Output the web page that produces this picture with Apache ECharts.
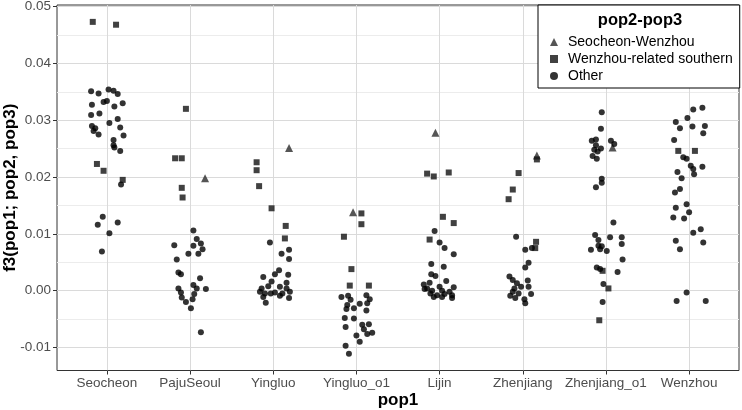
<!DOCTYPE html>
<html>
<head>
<meta charset="utf-8">
<title>f3 jitter</title>
<script src="https://cdn.jsdelivr.net/npm/echarts@6/dist/echarts.min.js"></script>
<style>
  html, body { margin: 0; padding: 0; background: #fff; }
  #chart { width: 742px; height: 410px; }
</style>
</head>
<body>
<div id="chart"></div>
<script>
// x categories (pop1)
const categories = ['Seocheon', 'PajuSeoul', 'Yingluo', 'Yingluo_o1', 'Lijin', 'Zhenjiang', 'Zhenjiang_o1', 'Wenzhou']
const yTicks = [-0.01, 0, 0.01, 0.02, 0.03, 0.04, 0.05]
const yMinorTicks = [-0.005, 0.005, 0.015, 0.025, 0.035, 0.045]

// each point: [category index, jitter, f3]
const seocheonWenzhou = [
  [1, 0.18, 0.0198], [2, 0.19, 0.0251], [3, -0.04, 0.0138], [4, -0.05, 0.0278],
  [5, 0.17, 0.0238], [6, 0.08, 0.0252]
]

const wenzhouSouthern = [
  [0, -0.17, 0.0473], [0, 0.11, 0.0468], [0, -0.12, 0.0223], [0, -0.04, 0.0211], [0, 0.19, 0.0195],
  [1, -0.05, 0.0320], [1, -0.18, 0.0233], [1, -0.10, 0.0233], [1, -0.10, 0.0181], [1, -0.09, 0.0164],
  [2, -0.20, 0.0226], [2, -0.20, 0.0212], [2, -0.17, 0.0184], [2, -0.02, 0.0145], [2, 0.15, 0.0114], [2, 0.14, 0.0092],
  [3, 0.06, 0.0136], [3, 0.06, 0.0117], [3, -0.15, 0.0095], [3, -0.06, 0.0038], [3, -0.08, 0.0009], [3, 0.15, 0.0009],
  [4, -0.15, 0.0206], [4, -0.07, 0.0201], [4, 0.11, 0.0208], [4, 0.04, 0.0130], [4, 0.17, 0.0119], [4, -0.12, 0.0090],
  [5, 0.17, 0.0231], [5, -0.05, 0.0207], [5, -0.12, 0.0178], [5, -0.17, 0.0161], [5, 0.16, 0.0086], [5, 0.15, 0.0075],
  [6, -0.04, 0.0035], [6, 0.03, 0.0004], [6, -0.08, -0.0052],
  [7, -0.13, 0.0246], [7, 0.07, 0.0246]
]

const other = [
  // Seocheon
  [0, -0.19, 0.0351], [0, -0.10, 0.0347], [0, 0.02, 0.0354], [0, 0.08, 0.0352], [0, 0.13, 0.0346],
  [0, -0.18, 0.0327], [0, -0.04, 0.0332], [0, 0.00, 0.0334], [0, 0.09, 0.0324], [0, 0.19, 0.0330],
  [0, -0.19, 0.0309], [0, -0.09, 0.0312], [0, 0.03, 0.0295], [0, 0.13, 0.0302], [0, -0.18, 0.0290],
  [0, -0.14, 0.0286], [0, -0.16, 0.0281], [0, -0.10, 0.0275], [0, 0.16, 0.0287], [0, 0.20, 0.0273],
  [0, 0.08, 0.0265], [0, 0.08, 0.0256], [0, 0.09, 0.0252], [0, 0.16, 0.0246], [0, 0.17, 0.0187],
  [0, -0.05, 0.0130], [0, -0.11, 0.0116], [0, 0.13, 0.0120], [0, 0.03, 0.0101], [0, -0.06, 0.0069],
  // PajuSeoul
  [1, 0.04, 0.0106], [1, 0.08, 0.0091], [1, -0.19, 0.0080], [1, 0.04, 0.0079], [1, 0.13, 0.0083],
  [1, 0.15, 0.0073], [1, -0.02, 0.0065], [1, 0.10, 0.0065], [1, -0.16, 0.0055], [1, -0.14, 0.0032],
  [1, -0.11, 0.0029], [1, 0.12, 0.0022], [1, -0.14, 0.0004], [1, 0.04, 0.0010], [1, 0.08, 0.0004],
  [1, 0.19, 0.0003], [1, -0.11, -0.0003], [1, -0.10, -0.0012], [1, 0.05, -0.0006], [1, 0.03, -0.0015],
  [1, -0.05, -0.0020], [1, 0.01, -0.0031], [1, 0.13, -0.0073],
  // Yingluo
  [2, -0.04, 0.0085], [2, 0.19, 0.0072], [2, 0.10, 0.0065], [2, 0.19, 0.0056], [2, 0.07, 0.0036],
  [2, 0.02, 0.0029], [2, -0.12, 0.0024], [2, 0.18, 0.0028], [2, -0.02, 0.0016], [2, 0.16, 0.0014],
  [2, -0.14, 0.0004], [2, -0.06, 0.0008], [2, 0.08, 0.0007], [2, 0.16, 0.0004], [2, -0.16, -0.0002],
  [2, -0.10, -0.0005], [2, 0.02, -0.0003], [2, 0.11, -0.0005], [2, 0.20, -0.0002], [2, -0.12, -0.0011],
  [2, 0.08, -0.0009], [2, 0.19, -0.0013], [2, -0.03, -0.0005], [2, -0.09, -0.0021],
  // Yingluo_o1
  [3, -0.18, -0.0011], [3, -0.10, -0.0009], [3, -0.07, -0.0016], [3, 0.12, -0.0008], [3, 0.16, -0.0015],
  [3, 0.13, -0.0022], [3, -0.11, -0.0025], [3, 0.04, -0.0023], [3, -0.03, -0.0031], [3, -0.12, -0.0032],
  [3, 0.12, -0.0035], [3, -0.14, -0.0048], [3, -0.03, -0.0049], [3, 0.07, -0.0060], [3, 0.15, -0.0059],
  [3, -0.13, -0.0064], [3, 0.09, -0.0068], [3, 0.19, -0.0074], [3, 0.13, -0.0076], [3, 0.00, -0.0079],
  [3, 0.04, -0.0090], [3, -0.13, -0.0097], [3, -0.09, -0.0111],
  // Lijin
  [4, -0.06, 0.0105], [4, 0.00, 0.0085], [4, 0.06, 0.0075], [4, 0.17, 0.0064], [4, -0.10, 0.0047],
  [4, 0.05, 0.0042], [4, -0.10, 0.0029], [4, -0.05, 0.0026], [4, 0.08, 0.0017], [4, -0.19, 0.0011],
  [4, -0.12, 0.0014], [4, -0.15, 0.0004], [4, 0.00, 0.0007], [4, -0.09, 0.0000], [4, -0.18, 0.0003],
  [4, 0.03, 0.0000], [4, 0.17, 0.0006], [4, 0.12, -0.0002], [4, -0.11, -0.0005], [4, -0.03, -0.0008],
  [4, 0.06, -0.0006], [4, 0.15, -0.0008], [4, -0.07, -0.0011], [4, 0.03, -0.0011], [4, 0.15, -0.0013],
  // Zhenjiang
  [5, -0.08, 0.0095], [5, 0.03, 0.0072], [5, 0.11, 0.0075], [5, 0.07, 0.0049], [5, 0.03, 0.0041],
  [5, -0.16, 0.0025], [5, -0.12, 0.0019], [5, 0.06, 0.0018], [5, -0.07, 0.0013], [5, 0.07, 0.0007],
  [5, -0.10, 0.0004], [5, -0.02, 0.0007], [5, -0.12, -0.0002], [5, -0.05, -0.0005], [5, 0.10, -0.0006],
  [5, -0.15, -0.0009], [5, -0.09, -0.0013], [5, 0.02, -0.0015], [5, 0.03, -0.0022],
  // Zhenjiang_o1
  [6, -0.05, 0.0314], [6, -0.06, 0.0285], [6, -0.17, 0.0264], [6, -0.12, 0.0266], [6, 0.06, 0.0264],
  [6, 0.10, 0.0258], [6, -0.12, 0.0256], [6, -0.14, 0.0248], [6, -0.06, 0.0250], [6, -0.10, 0.0245],
  [6, -0.16, 0.0237], [6, -0.11, 0.0232], [6, -0.05, 0.0197], [6, -0.05, 0.0190], [6, -0.12, 0.0182],
  [6, 0.09, 0.0120], [6, -0.13, 0.0098], [6, 0.05, 0.0094], [6, 0.19, 0.0094], [6, -0.09, 0.0089],
  [6, 0.19, 0.0082], [6, -0.09, 0.0079], [6, -0.05, 0.0078], [6, -0.18, 0.0072], [6, -0.07, 0.0073],
  [6, 0.01, 0.0070], [6, 0.20, 0.0055], [6, -0.11, 0.0041], [6, -0.07, 0.0038], [6, 0.14, 0.0033],
  [6, -0.03, 0.0012], [6, -0.04, -0.0020],
  // Wenzhou
  [7, 0.05, 0.0319], [7, 0.16, 0.0322], [7, -0.02, 0.0304], [7, -0.16, 0.0297], [7, -0.11, 0.0286],
  [7, 0.04, 0.0289], [7, 0.19, 0.0290], [7, 0.17, 0.0277], [7, -0.18, 0.0265], [7, -0.07, 0.0235],
  [7, -0.03, 0.0232], [7, 0.02, 0.0220], [7, 0.05, 0.0214], [7, 0.16, 0.0218], [7, -0.14, 0.0209],
  [7, 0.06, 0.0205], [7, -0.09, 0.0198], [7, -0.11, 0.0179], [7, -0.17, 0.0173], [7, -0.03, 0.0152],
  [7, -0.16, 0.0146], [7, 0.00, 0.0138], [7, -0.19, 0.0129], [7, -0.06, 0.0127], [7, 0.05, 0.0102],
  [7, 0.14, 0.0108], [7, -0.16, 0.0088], [7, 0.17, 0.0085], [7, -0.11, 0.0073], [7, -0.03, -0.0003],
  [7, -0.15, -0.0018], [7, 0.20, -0.0018]
]

const FONT = 'Liberation Sans, Arial, sans-serif'
const xPositions = categories.map((c, i) => i + 1)

// category index + jitter -> x on a value axis
const toXY = pts => pts.map(p => [p[0] + 1 + p[1], p[2]])

const chart = echarts.init(document.getElementById('chart'), null, { renderer: 'canvas' })

const option = {
  animation: false,
  backgroundColor: '#fff',
  textStyle: { fontFamily: FONT },
  grid: {
    left: 57,
    right: 3,
    top: 5,
    bottom: 39.5,
    containLabel: false,
    outerBoundsMode: 'none',
    show: true,
    backgroundColor: '#fff',
    borderColor: '#333',
    borderWidth: 1
  },
  xAxis: {
    type: 'value',
    min: 0.4,
    max: 8.6,
    name: 'pop1',
    nameLocation: 'middle',
    nameGap: 21,
    nameMoveOverlap: false,
    nameTextStyle: { color: '#000', fontSize: 17, fontWeight: 'bold', fontFamily: FONT },
    axisLine: { show: false, onZero: false },
    axisTick: { show: true, length: 4, customValues: xPositions, lineStyle: { color: '#333' } },
    axisLabel: {
      customValues: xPositions,
      margin: 6,
      color: '#4d4d4d',
      fontSize: 13.5,
      fontFamily: FONT,
      formatter: v => categories[Math.round(v) - 1] || ''
    },
    splitLine: { show: true, lineStyle: { color: '#dadada', width: 1 } }
  },
  yAxis: [
    {
      type: 'value',
      min: -0.01404,
      max: 0.05027,
      name: 'f3(pop1; pop2, pop3)',
      nameLocation: 'middle',
      nameGap: 38,
      nameMoveOverlap: false,
      nameTextStyle: { color: '#000', fontSize: 17, fontWeight: 'bold', fontFamily: FONT },
      axisLine: { show: false, onZero: false },
      axisTick: { show: true, length: 4, customValues: yTicks, lineStyle: { color: '#333' } },
      axisLabel: {
        customValues: yTicks,
        margin: 6,
        color: '#4d4d4d',
        fontSize: 13.5,
        fontFamily: FONT,
        formatter: v => v.toFixed(2)
      },
      splitLine: { show: true, lineStyle: { color: '#dadada', width: 1 } },
      z: 1
    },
    {
      // minor grid lines only
      type: 'value',
      position: 'left',
      min: -0.01404,
      max: 0.05027,
      axisLine: { show: false, onZero: false },
      axisTick: { show: false, customValues: yMinorTicks },
      axisLabel: { show: false, customValues: yMinorTicks },
      splitLine: { show: true, lineStyle: { color: '#ececec', width: 1 } },
      z: 0
    }
  ],
  legend: {
    orient: 'vertical',
    left: 538,
    top: 5,
    padding: [30, 7, 5, 12],
    itemWidth: 8,
    itemHeight: 8,
    itemGap: 3,
    backgroundColor: '#fff',
    borderColor: '#000',
    borderWidth: 1,
    borderRadius: 0,
    textStyle: { color: '#000', fontSize: 14, fontFamily: FONT, lineHeight: 14, padding: [0, 0, 0, 5] },
    data: [
      { name: 'Seocheon-Wenzhou', icon: 'triangle' },
      { name: 'Wenzhou-related southern', icon: 'rect' },
      { name: 'Other', icon: 'circle' }
    ],
    selectedMode: false
  },
  graphic: [
    {
      type: 'text',
      x: 640,
      y: 20,
      z: 100,
      style: {
        text: 'pop2-pop3',
        fill: '#000',
        font: 'bold 16.5px ' + FONT,
        textAlign: 'center',
        textVerticalAlign: 'middle'
      }
    }
  ],
  series: [
    {
      name: 'Seocheon-Wenzhou',
      type: 'scatter',
      symbol: 'triangle',
      symbolSize: 8,
      itemStyle: { color: '#2b2b2b' },
      data: toXY(seocheonWenzhou)
    },
    {
      name: 'Wenzhou-related southern',
      type: 'scatter',
      symbol: 'rect',
      symbolSize: 6,
      itemStyle: { color: '#111' },
      data: toXY(wenzhouSouthern)
    },
    {
      name: 'Other',
      type: 'scatter',
      symbol: 'circle',
      symbolSize: 6,
      itemStyle: { color: '#000' },
      data: toXY(other)
    }
  ]
}

chart.setOption(option)
</script>
</body>
</html>
